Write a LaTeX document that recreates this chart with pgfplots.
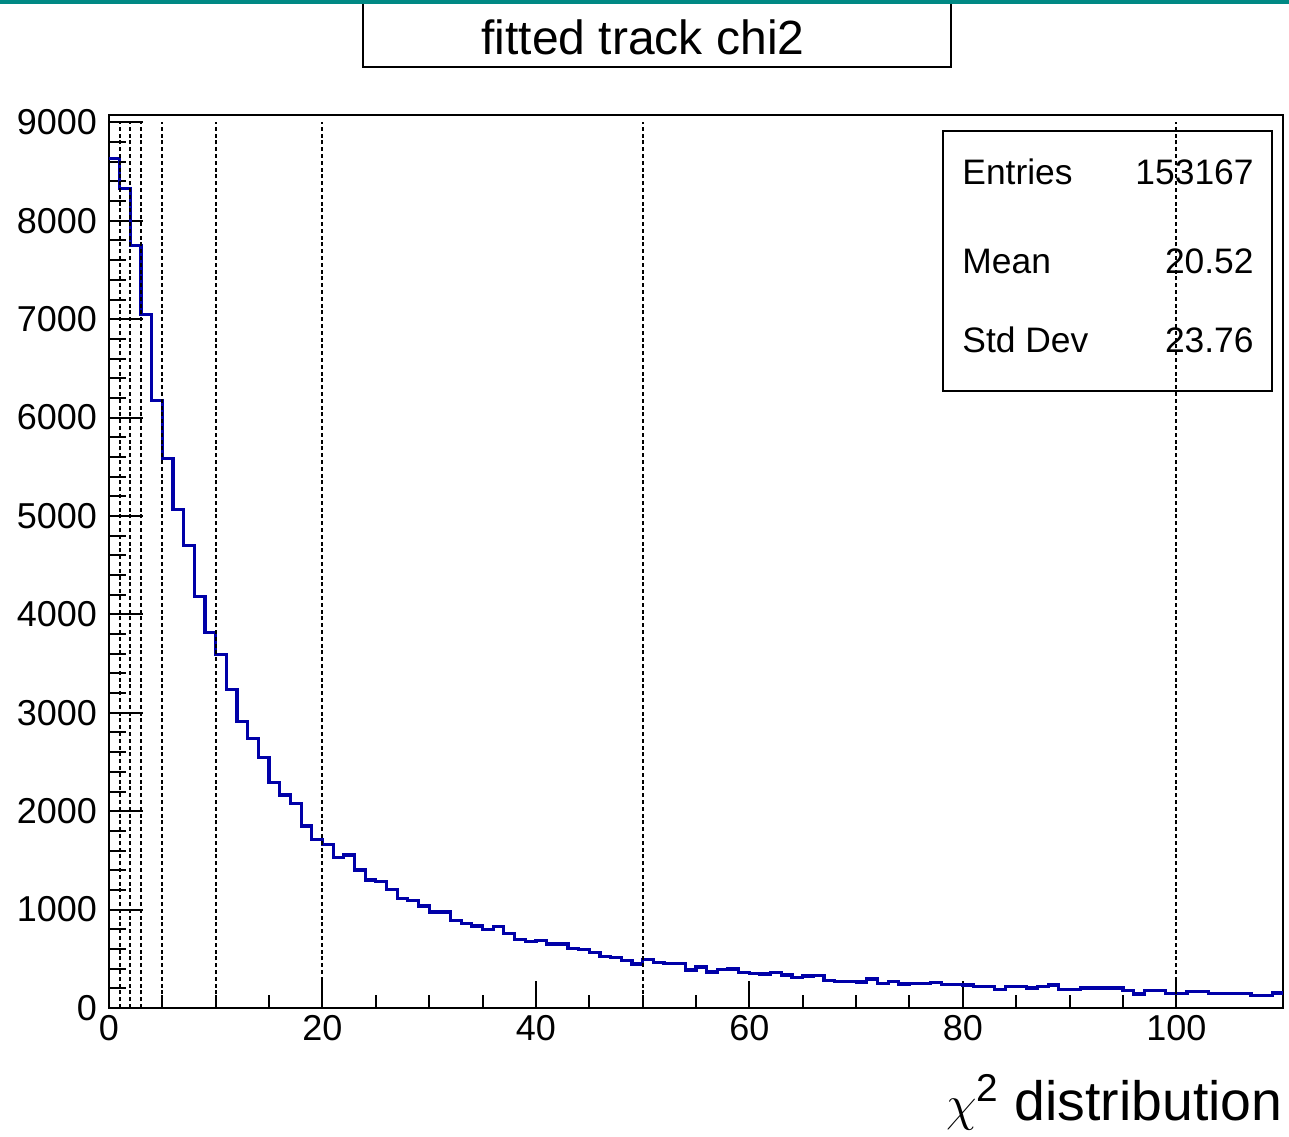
\documentclass[border=0pt]{standalone}
\usepackage{fontspec}
\setmainfont{Liberation Sans}
\usepackage{pgfplots}
\pgfplotsset{compat=1.18}
\definecolor{histblue}{RGB}{0,0,168}
\definecolor{roottea}{RGB}{0,137,132}
\begin{document}
\begin{tikzpicture}
\useasboundingbox (-54.5pt,-64pt) rectangle (590pt,504pt);
\begin{axis}[
  at={(0,0)}, anchor=south west,
  scale only axis,
  width=587pt, height=446.5pt,
  xmin=0, xmax=110, ymin=0, ymax=9075,
  xtick={0,20,...,100},
  ytick={0,1000,...,9000},
  minor x tick num=3,
  minor y tick num=4,
  tick pos=left,
  tick align=inside,
  axis line style={line width=1pt},
  tick style={black, line width=1pt},
  xtick style={/pgfplots/major tick length=13.5pt, /pgfplots/minor tick length=6.5pt},
  ytick style={/pgfplots/major tick length=17pt, /pgfplots/minor tick length=8.5pt},
  ticklabel style={font=\fontsize{18}{20}\selectfont},
  yticklabel style={xshift=-2.5pt},
  /pgf/number format/assume math mode=true,
  scaled ticks=false,
  /pgf/number format/1000 sep={},
]
% stats box (drawn under the reference lines)
\draw[line width=0.8pt, fill=white] (rel axis cs:0,0) ++(417pt,308.5pt) rectangle ++(164.5pt,130pt);
\addplot[const plot, color=histblue, line width=1.6pt] coordinates {
  (0,8630) (1,8330) (2,7750) (3,7050) (4,6170) (5,5585) (6,5070) (7,4700) (8,4185) (9,3816)
  (10,3590) (11,3240) (12,2915) (13,2740) (14,2543) (15,2295) (16,2164) (17,2080) (18,1849) (19,1714)
  (20,1663) (21,1531) (22,1554) (23,1402) (24,1300) (25,1283) (26,1206) (27,1114) (28,1090) (29,1036)
  (30,975) (31,975) (32,887) (33,860) (34,833) (35,799) (36,826) (37,759) (38,697) (39,674)
  (40,684) (41,650) (42,650) (43,603) (44,596) (45,562) (46,521) (47,515) (48,481) (49,447)
  (50,494) (51,461) (52,455) (53,455) (54,386) (55,416) (56,366) (57,390) (58,396) (59,362)
  (60,350) (61,345) (62,362) (63,336) (64,312) (65,325) (66,334) (67,276) (68,270) (69,266)
  (70,265) (71,294) (72,251) (73,272) (74,244) (75,251) (76,251) (77,257) (78,241) (79,241)
  (80,234) (81,217) (82,217) (83,190) (84,217) (85,217) (86,203) (87,217) (88,234) (89,190)
  (90,190) (91,203) (92,203) (93,203) (94,203) (95,176) (96,142) (97,176) (98,176) (99,149)
  (100,149) (101,166) (102,166) (103,149) (104,149) (105,149) (106,149) (107,129) (108,129) (109,152)
  (110,152)
};
% reference lines
\pgfplotsset{refline/.style={black, line width=1pt, dash pattern=on 2pt off 1.4pt}}
\addplot[refline] coordinates {(1,0) (1,9000)};
\addplot[refline] coordinates {(2,0) (2,9000)};
\addplot[refline] coordinates {(3,0) (3,9000)};
\addplot[refline] coordinates {(5,0) (5,9000)};
\addplot[refline] coordinates {(10,0) (10,9000)};
\addplot[refline] coordinates {(20,0) (20,9000)};
\addplot[refline] coordinates {(50,0) (50,9000)};
\addplot[refline] coordinates {(100,0) (100,9000)};
\end{axis}
% stats text
\begingroup\fontsize{17.7}{20}\selectfont
\node[anchor=base west, inner sep=0pt] at (426.5pt,411.5pt) {Entries};
\node[anchor=base east, inner sep=0pt] at (572.5pt,411.5pt) {153167};
\node[anchor=base west, inner sep=0pt] at (426.5pt,367pt) {Mean};
\node[anchor=base east, inner sep=0pt] at (572.5pt,367pt) {20.52};
\node[anchor=base west, inner sep=0pt] at (426.5pt,327.5pt) {Std Dev};
\node[anchor=base east, inner sep=0pt] at (572.5pt,327.5pt) {23.76};
\endgroup
% title box
\draw[line width=0.8pt, fill=white] (127pt,505pt) -- (127pt,470.5pt) -- (421pt,470.5pt) -- (421pt,505pt);
\node[anchor=base, inner sep=0pt, font=\fontsize{24}{28}\selectfont] at (267pt,476.5pt) {fitted track chi2};
% top bar
\fill[roottea] (-54.5pt,502pt) rectangle (590pt,504pt);
% x axis title
\node[anchor=base east, inner sep=0pt, font=\fontsize{27.7}{32}\selectfont] at (587pt,-56pt)
  {$\chi$\textsuperscript{2} distribution};
\end{tikzpicture}
\end{document}
